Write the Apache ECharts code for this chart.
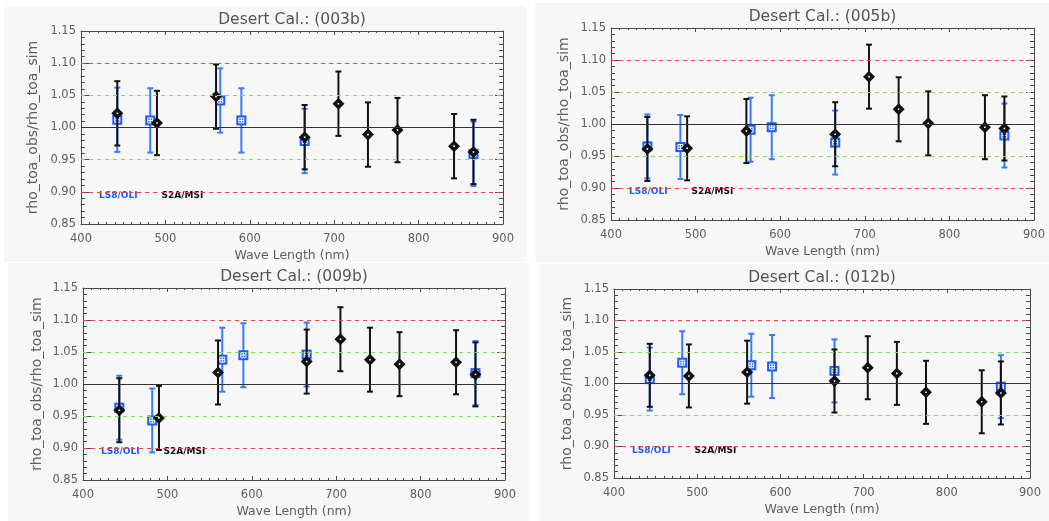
<!DOCTYPE html>
<html>
<head>
<meta charset="utf-8">
<title>Desert Cal.</title>
<script src="https://cdn.jsdelivr.net/npm/echarts@6/dist/echarts.min.js"></script>
<style>
  html, body { margin: 0; padding: 0; background: #fff; }
  #chart { width: 1049px; height: 521px; }
</style>
</head>
<body>
<div id="chart"></div>
<script>
// wavelengths (nm) of the two sensors
const oliWl = [443, 482, 565, 590, 665, 865];
const msiWl = [443, 490, 560, 665, 705, 740, 775, 842, 865];

const siteNames = ['003b', '005b', '009b', '012b'];

// rho_toa_obs / rho_toa_sim
const oli003b = [1.012, 1.011, 1.042, 1.011, 0.979, 0.959];
const msi003b = [1.022, 1.007, 1.048, 0.985, 1.037, 0.989, 0.996, 0.971, 0.962];
const oli005b = [0.965, 0.964, 0.991, 0.995, 0.971, 0.982];
const msi005b = [0.961, 0.962, 0.989, 0.984, 1.074, 1.023, 1.001, 0.995, 0.993];
const oli009b = [0.963, 0.943, 1.038, 1.045, 1.046, 1.017];
const msi009b = [0.959, 0.947, 1.018, 1.035, 1.070, 1.038, 1.031, 1.034, 1.015];
const oli012b = [1.007, 1.033, 1.029, 1.027, 1.020, 0.995];
const msi012b = [1.013, 1.012, 1.018, 1.004, 1.025, 1.016, 0.986, 0.971, 0.985];

// error bar half length (same on every point)
const uncertainty = 0.05;

// horizontal reference lines
const refSolid = [1.00];
const refGreen = [0.95, 1.05];
const refRed = [0.90, 1.10];

const oliSets = [oli003b, oli005b, oli009b, oli012b];
const msiSets = [msi003b, msi005b, msi009b, msi012b];

const BLUE = '#1f5cff';
const BLUE_BAR = '#3b7bff';
const BLACK = '#111';
const AX = '#4a4a4a';
const TXT = '#5e5e5e';
const FONT = 'DejaVu Sans';

// panel layout (pixels)
const panels = [
  { bg: [4, 6, 522, 256],     grid: { left: 81,  top: 31,  width: 422, height: 193 }, titleTop: 12,  yGap: 41 },
  { bg: [535, 3, 514, 259],   grid: { left: 611, top: 28,  width: 423, height: 192 }, titleTop: 9,   yGap: 40 },
  { bg: [8, 263, 521, 258],   grid: { left: 83,  top: 288, width: 422, height: 192 }, titleTop: 269, yGap: 39 },
  { bg: [539, 264, 510, 257], grid: { left: 614, top: 289, width: 416, height: 189 }, titleTop: 270, yGap: 40 }
];

function drawOli(params, api) {
  const x = api.value(0), y = api.value(1), e = api.value(2);
  const p = api.coord([x, y]);
  const hi = api.coord([x, y + e])[1];
  const lo = api.coord([x, y - e])[1];
  const bar = { stroke: BLUE_BAR, lineWidth: 2 };
  const white = { stroke: '#fff', lineWidth: 1, fill: 'none' };
  return {
    type: 'group',
    children: [
      { type: 'line', shape: { x1: p[0], y1: hi, x2: p[0], y2: lo }, style: bar },
      { type: 'line', shape: { x1: p[0] - 3, y1: hi, x2: p[0] + 3, y2: hi }, style: bar },
      { type: 'line', shape: { x1: p[0] - 3, y1: lo, x2: p[0] + 3, y2: lo }, style: bar },
      { type: 'rect', shape: { x: p[0] - 5, y: p[1] - 5, width: 10, height: 10 }, style: { fill: BLUE } },
      { type: 'rect', shape: { x: p[0] - 2.5, y: p[1] - 2.5, width: 5, height: 5 }, style: white },
      { type: 'line', shape: { x1: p[0], y1: p[1] - 2.5, x2: p[0], y2: p[1] + 2.5 }, style: white },
      { type: 'line', shape: { x1: p[0] - 2.5, y1: p[1], x2: p[0] + 2.5, y2: p[1] }, style: white }
    ]
  };
}

function drawMsi(params, api) {
  const x = api.value(0), y = api.value(1), e = api.value(2);
  const p = api.coord([x, y]);
  const hi = api.coord([x, y + e])[1];
  const lo = api.coord([x, y - e])[1];
  const bar = { stroke: BLACK, lineWidth: 2 };
  const d = 6;
  return {
    type: 'group',
    children: [
      { type: 'line', shape: { x1: p[0], y1: hi, x2: p[0], y2: lo }, style: bar },
      { type: 'line', shape: { x1: p[0] - 3, y1: hi, x2: p[0] + 3, y2: hi }, style: bar },
      { type: 'line', shape: { x1: p[0] - 3, y1: lo, x2: p[0] + 3, y2: lo }, style: bar },
      { type: 'polygon', shape: { points: [[p[0], p[1] - d], [p[0] + d, p[1]], [p[0], p[1] + d], [p[0] - d, p[1]]] }, style: { fill: BLACK } },
      { type: 'rect', shape: { x: p[0] - 0.8, y: p[1] - 0.8, width: 1.6, height: 1.6 }, style: { fill: '#fff' } }
    ]
  };
}

const axisLine = { lineStyle: { color: AX, width: 1 } };
const labelStyle = { color: TXT, fontFamily: FONT, fontSize: 11.5 };

const option = {
  backgroundColor: '#fff',
  animation: false,
  graphic: panels.map(p => ({
    type: 'rect', z: -10, silent: true,
    shape: { x: p.bg[0], y: p.bg[1], width: p.bg[2], height: p.bg[3] },
    style: { fill: '#f7f7f7' }
  })),
  title: panels.map((p, i) => ({
    text: 'Desert Cal.: (' + siteNames[i] + ')',
    left: p.grid.left + p.grid.width / 2,
    top: p.titleTop,
    textAlign: 'center',
    padding: 0,
    textStyle: { color: '#555', fontFamily: FONT, fontSize: 15.5, fontWeight: 'normal' }
  })),
  legend: panels.map(p => ({
    left: p.grid.left + 13,
    top: p.grid.top + p.grid.height * 0.83,
    padding: 0,
    itemWidth: 0,
    itemHeight: 0,
    itemGap: 19,
    selectedMode: false,
    data: [
      { name: 'LS8/OLI', textStyle: { color: BLUE } },
      { name: 'S2A/MSI', textStyle: { color: BLACK } }
    ],
    textStyle: { fontFamily: FONT, fontSize: 9, fontWeight: 'bold' }
  })),
  grid: panels.map(p => Object.assign({ containLabel: false }, p.grid)),
  xAxis: [],
  yAxis: [],
  series: []
};

panels.forEach((p, i) => {
  ['bottom', 'top'].forEach(pos => {
    option.xAxis.push({
      gridIndex: i, type: 'value', position: pos,
      min: 400, max: 900, interval: 100,
      axisLine: axisLine,
      axisTick: { inside: true, length: 4, lineStyle: { color: AX } },
      minorTick: { show: true, splitNumber: 10, length: 2, lineStyle: { color: AX } },
      splitLine: { show: false },
      axisLabel: Object.assign({ show: pos === 'bottom', margin: 9 }, labelStyle),
      name: pos === 'bottom' ? 'Wave Length (nm)' : '',
      nameLocation: 'middle',
      nameGap: 25,
      nameTextStyle: { color: TXT, fontFamily: FONT, fontSize: 12.5 }
    });
  });
  ['left', 'right'].forEach(pos => {
    option.yAxis.push({
      gridIndex: i, type: 'value', position: pos,
      min: 0.85, max: 1.15, interval: 0.05,
      axisLine: axisLine,
      axisTick: { inside: true, length: 8, lineStyle: { color: AX } },
      minorTick: { show: true, splitNumber: 5, length: 4, lineStyle: { color: AX } },
      splitLine: { show: false },
      axisLabel: Object.assign({ show: pos === 'left', margin: 5, formatter: v => v.toFixed(2) }, labelStyle),
      name: pos === 'left' ? 'rho_toa_obs/rho_toa_sim' : '',
      nameLocation: 'middle',
      nameGap: p.yGap,
      nameTextStyle: { color: TXT, fontFamily: FONT, fontSize: 14 }
    });
  });

  const refLines = []
    .concat(refRed.map(v => ({ yAxis: v, lineStyle: { color: '#ee4444', type: [4, 4], width: 1 } })))
    .concat(refGreen.map(v => ({ yAxis: v, lineStyle: { color: '#77e055', type: [4, 4], width: 1 } })))
    .concat(refSolid.map(v => ({ yAxis: v, lineStyle: { color: '#333', type: 'solid', width: 1 } })));

  option.series.push({
    type: 'line', name: 'ref', xAxisIndex: 2 * i, yAxisIndex: 2 * i, data: [],
    silent: true,
    markLine: { symbol: 'none', silent: true, label: { show: false }, data: refLines, animation: false }
  });
  option.series.push({
    type: 'custom', name: 'LS8/OLI', xAxisIndex: 2 * i, yAxisIndex: 2 * i, z: 3,
    renderItem: drawOli, encode: { x: 0, y: 1 },
    data: oliWl.map((w, k) => [w, oliSets[i][k], uncertainty])
  });
  option.series.push({
    type: 'custom', name: 'S2A/MSI', xAxisIndex: 2 * i, yAxisIndex: 2 * i, z: 4,
    renderItem: drawMsi, encode: { x: 0, y: 1 },
    data: msiWl.map((w, k) => [w, msiSets[i][k], uncertainty])
  });
});

const chart = echarts.init(document.getElementById('chart'), null, { renderer: 'canvas' });
chart.setOption(option);
</script>
</body>
</html>
